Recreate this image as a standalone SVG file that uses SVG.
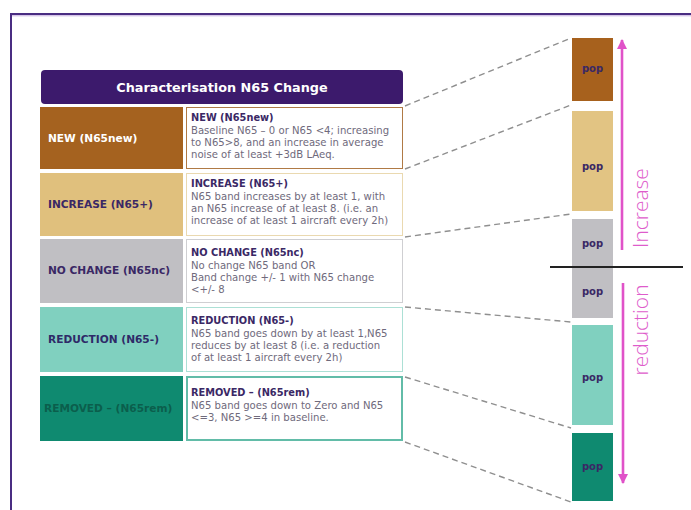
<svg xmlns="http://www.w3.org/2000/svg" width="691" height="510" viewBox="0 0 691 510">
<defs>
<marker id="ah" viewBox="0 0 10 10" refX="9" refY="5" markerWidth="4" markerHeight="4" orient="auto" markerUnits="strokeWidth">
<path d="M0,0 L10,5 L0,10 z" fill="#e052c8"/>
</marker>
</defs>
<style>
.lbl{font-family:"DejaVu Sans",sans-serif;font-weight:bold;font-size:10.6px}
.ttl{font-family:"DejaVu Sans",sans-serif;font-weight:bold;font-size:9.8px;fill:#3a2865}
.body{font-family:"DejaVu Sans",sans-serif;font-size:10.1px;fill:#6f6a7c}
.pop{font-family:"DejaVu Sans",sans-serif;font-weight:bold;font-size:10px;fill:#3a2865;text-anchor:middle}
.dash{stroke:#8f8f8f;stroke-width:1.4;stroke-dasharray:6 4;fill:none}
.arr{stroke:#e052c8;stroke-width:2.6;fill:none}
.rot{font-family:"Open Sans",sans-serif;font-weight:300;font-size:21px;fill:#de5ccb;text-anchor:middle}
</style>
<rect width="691" height="510" fill="#ffffff"/>
<g id="frame">
<path d="M11,510 L11,14 L691,14" fill="none" stroke="#4a2d82" stroke-width="2"/>
<line x1="12" y1="15.8" x2="691" y2="15.8" stroke="#c7aee0" stroke-width="1"/>
</g>
<g id="title">
<rect x="41" y="70" width="362" height="34" rx="4" fill="#3c1a6c"/>
<text x="222" y="92" text-anchor="middle" font-family="DejaVu Sans, sans-serif" font-weight="bold" font-size="12.8" fill="#ffffff">Characterisation N65 Change</text>
</g>
<g id="row-new">
<rect x="40" y="107" width="143" height="62" fill="#a5621f"/>
<rect x="186.5" y="107.5" width="216" height="61" fill="#ffffff" stroke="#b07a45" stroke-width="1"/>
<text class="lbl" x="48" y="142" fill="#ffffff">NEW (N65new)</text>
<text class="ttl" x="191" y="121">NEW (N65new)</text>
<text class="body" x="191" y="134">Baseline N65 – 0 or N65 &lt;4; increasing</text>
<text class="body" x="191" y="146">to N65&gt;8, and an increase in average</text>
<text class="body" x="191" y="158">noise of at least +3dB LAeq.</text>
</g>
<g id="row-increase">
<rect x="40" y="173" width="143" height="63" fill="#e0c07d"/>
<rect x="186.5" y="173.5" width="216" height="62" fill="#ffffff" stroke="#ead9b0" stroke-width="1"/>
<text class="lbl" x="48" y="208" fill="#3a2865">INCREASE (N65+)</text>
<text class="ttl" x="191" y="187">INCREASE (N65+)</text>
<text class="body" x="191" y="200">N65 band increases by at least 1, with</text>
<text class="body" x="191" y="212">an N65 increase of at least 8. (i.e. an</text>
<text class="body" x="191" y="224">increase of at least 1 aircraft every 2h)</text>
</g>
<g id="row-nochange">
<rect x="40" y="239" width="143" height="64" fill="#c0bfc3"/>
<rect x="186.5" y="239.5" width="216" height="63" fill="#ffffff" stroke="#cfcfd2" stroke-width="1"/>
<text class="lbl" x="48" y="274" fill="#3a2865">NO CHANGE (N65nc)</text>
<text class="ttl" x="191" y="256">NO CHANGE (N65nc)</text>
<text class="body" x="191" y="269">No change N65 band OR</text>
<text class="body" x="191" y="281">Band change +/- 1 with N65 change</text>
<text class="body" x="191" y="293">&lt;+/- 8</text>
</g>
<g id="row-reduction">
<rect x="40" y="307" width="143" height="65" fill="#80d0bf"/>
<rect x="186.5" y="307.5" width="216" height="64" fill="#ffffff" stroke="#ace0d5" stroke-width="1"/>
<text class="lbl" x="48" y="343" fill="#2e2a68">REDUCTION (N65-)</text>
<text class="ttl" x="191" y="324">REDUCTION (N65-)</text>
<text class="body" x="191" y="337">N65 band goes down by at least 1,N65</text>
<text class="body" x="191" y="349">reduces by at least 8 (i.e. a reduction</text>
<text class="body" x="191" y="361">of at least 1 aircraft every 2h)</text>
</g>
<g id="row-removed">
<rect x="40" y="376" width="143" height="65" fill="#0f8a70"/>
<rect x="187" y="377" width="215" height="63" fill="#ffffff" stroke="#62bca8" stroke-width="2"/>
<text class="lbl" x="44" y="412" fill="#0b5e4c">REMOVED – (N65rem)</text>
<text class="ttl" x="191" y="396">REMOVED – (N65rem)</text>
<text class="body" x="191" y="409">N65 band goes down to Zero and N65</text>
<text class="body" x="191" y="421">&lt;=3, N65 &gt;=4 in baseline.</text>
</g>
<g id="bar-new">
<rect x="572" y="38" width="41" height="63" fill="#a7611d"/>
<text class="pop" x="592.5" y="72" fill="#4a2a55">pop</text>
</g>
<g id="bar-increase">
<rect x="572" y="111" width="41" height="100" fill="#e2c483"/>
<text class="pop" x="592.5" y="170">pop</text>
</g>
<g id="bar-nochange">
<rect x="572" y="219" width="41" height="99" fill="#c0bfc3"/>
<text class="pop" x="592.5" y="247">pop</text>
<text class="pop" x="592.5" y="295">pop</text>
</g>
<g id="bar-reduction">
<rect x="572" y="325" width="41" height="100" fill="#80d0bf"/>
<text class="pop" x="592.5" y="381">pop</text>
</g>
<g id="bar-removed">
<rect x="572" y="433" width="41" height="68" fill="#0f8a70"/>
<text class="pop" x="592.5" y="470" fill="#1d3a60">pop</text>
</g>
<g id="divider">
<line x1="550" y1="267" x2="683" y2="267" stroke="#222222" stroke-width="2"/>
</g>
<g id="connectors">
<line class="dash" x1="405" y1="106" x2="571" y2="38"/>
<line class="dash" x1="405" y1="169" x2="571" y2="105"/>
<line class="dash" x1="405" y1="237" x2="571" y2="214"/>
<line class="dash" x1="405" y1="307" x2="571" y2="322"/>
<line class="dash" x1="405" y1="377" x2="571" y2="428"/>
<line class="dash" x1="405" y1="442" x2="571" y2="502"/>
<line class="arr" x1="622" y1="250" x2="622" y2="40" marker-end="url(#ah)"/>
<line class="arr" x1="623" y1="283" x2="623" y2="483" marker-end="url(#ah)"/>
</g>
<g id="labels">
<text class="rot" transform="translate(648,208) rotate(-90)">Increase</text>
<text class="rot" transform="translate(648,330) rotate(-90)">reduction</text>
</g>
</svg>
